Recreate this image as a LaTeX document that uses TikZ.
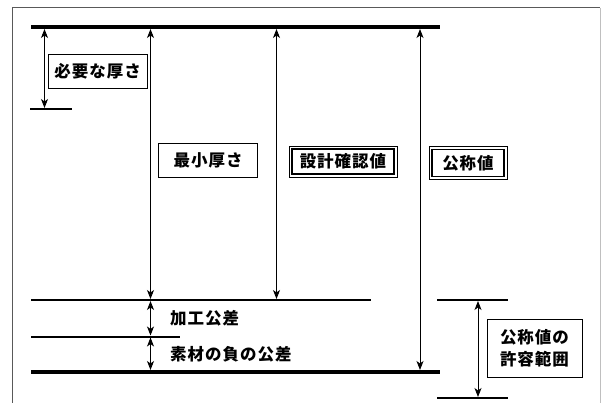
\documentclass[tikz,border=0pt]{standalone}
\usepackage{fontspec}
\newfontfamily\jp{Noto Sans CJK JP}[LetterSpace=6]
\usetikzlibrary{arrows.meta}
\tikzset{
  frameline/.style={draw=black!65, line width=1pt},
  thickbar/.style={line width=4pt},
  thinbar/.style={line width=2pt},
  dim/.style={line width=0.9pt, {Stealth[length=9pt,width=7pt,inset=2.5pt]}-{Stealth[length=9pt,width=7pt,inset=2.5pt]}},
  lab/.style={font=\jp\bfseries\fontsize{16.5}{20}\selectfont, inner sep=0pt},
  boxlab/.style={lab, draw, line width=0.8pt, minimum height=34pt, inner xsep=6pt},
  dboxlab/.style={lab, draw, line width=1.4pt, minimum height=25pt, inner xsep=4pt},
}
\begin{document}
\begin{tikzpicture}[x=1pt,y=-1pt]
\useasboundingbox (0,0) rectangle (602,403);
\fill[white] (0,0) rectangle (602,403);
% frame
\draw[frameline] (12,403) -- (12,8) -- (600,8);
\draw[draw=black!25, line width=1pt] (600.5,8) -- (600.5,403);
% levels
\coordinate (t1) at (31,27);  \coordinate (t2) at (440,27);
\coordinate (r1) at (30,109); \coordinate (r2) at (72,109);
\coordinate (m1) at (31,300); \coordinate (m2) at (371,300);
\coordinate (p1) at (31,336.5); \coordinate (p2) at (180,336.5);
\coordinate (b1) at (31,372); \coordinate (b2) at (440,372);
\coordinate (u1) at (437,300); \coordinate (u2) at (508,300);
\coordinate (l1) at (437,398); \coordinate (l2) at (508,398);
\draw[thickbar] (t1) -- (t2);
\draw[thickbar] (b1) -- (b2);
\draw[thinbar] (r1) -- (r2);
\draw[thinbar] (m1) -- (m2);
\draw[thinbar] (p1) -- (p2);
\draw[thinbar] (u1) -- (u2);
\draw[thinbar] (l1) -- (l2);
% arrow end points
\coordinate (a1t) at (44.5,29); \coordinate (a1b) at (44.5,108);
\coordinate (a2t) at (150.5,29); \coordinate (a2b) at (150.5,299);
\coordinate (a3t) at (276.5,29); \coordinate (a3b) at (276.5,299);
\coordinate (a4t) at (420,29);  \coordinate (a4b) at (420,370);
\coordinate (a5t) at (150.5,301); \coordinate (a5b) at (150.5,335.5);
\coordinate (a6t) at (150.5,337.5); \coordinate (a6b) at (150.5,370);
\coordinate (a7t) at (478,301); \coordinate (a7b) at (478,397);
\draw[dim] (a1t) -- (a1b);
\draw[dim] (a2t) -- (a2b);
\draw[dim] (a3t) -- (a3b);
\draw[dim] (a4t) -- (a4b);
\draw[dim] (a5t) -- (a5b);
\draw[dim] (a6t) -- (a6b);
\draw[dim] (a7t) -- (a7b);
% labels
\node[boxlab, minimum width=98pt] (need) at (97.7,71) {必要な厚さ};
\node[boxlab, minimum width=99pt] (minth) at (208.2,160.5) {最小厚さ};
\node[lab, draw, line width=0.7pt, minimum width=108pt, minimum height=31pt] (dsgo) at (343,161.5) {};
\node[dboxlab, minimum width=102pt] (dsg) at (343,161.5) {設計確認値};
\node[lab, draw, line width=0.7pt, minimum width=78pt, minimum height=33pt] (nomo) at (468,163.3) {};
\node[dboxlab, minimum width=72pt, minimum height=27pt] (nom) at (468,163.3) {公称値};
\node[lab, anchor=west] (proc) at (170,318) {加工公差};
\node[lab, anchor=west] (mat) at (170,354) {素材の負の公差};
\node[boxlab, align=center, minimum width=95pt, minimum height=58pt, font=\jp\bfseries\fontsize{16.5}{22}\selectfont] (tol) at (534.5,348) {公称値の\\許容範囲};
\end{tikzpicture}
\end{document}
